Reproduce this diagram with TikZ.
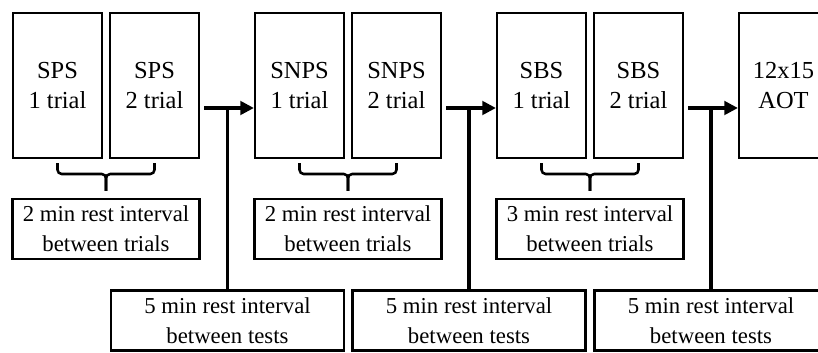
\documentclass[tikz,border=0pt]{standalone}
\usepackage{fontspec}
\setmainfont{Liberation Serif}
\usetikzlibrary{arrows.meta}

\begin{document}
\begin{tikzpicture}
	\useasboundingbox (0,0) rectangle (20.45,8.8);
	% Define styles
	\tikzstyle{trial}=[rectangle, draw=black, line width=1.6pt, minimum width=2.225cm, minimum height=3.625cm, inner sep=0pt, align=center, font=\fontsize{17.4}{21.3}\selectfont]
	\tikzstyle{rest}=[rectangle, draw=black, line width=1.6pt, minimum height=1.5cm, inner sep=0pt, align=center, font=\fontsize{16.2}{21.3}\selectfont]
	\tikzstyle{flow}=[line width=2.2pt, -{Triangle[length=3.4mm, width=3.4mm]}]
	\tikzstyle{link}=[line width=2.2pt]
	\tikzstyle{brace}=[line width=1.8pt, rounded corners=3pt]

	\node[trial] (sps1) at (1.4375,6.6625) {SPS\\1 trial};
	\node[trial] (sps2) at (3.8625,6.6625) {SPS\\2 trial};
	\node[trial] (snps1) at (7.4875,6.6625) {SNPS\\1 trial};
	\node[trial] (snps2) at (9.9125,6.6625) {SNPS\\2 trial};
	\node[trial] (sbs1) at (13.5375,6.6625) {SBS\\1 trial};
	\node[trial] (sbs2) at (15.9625,6.6625) {SBS\\2 trial};
	\node[trial] (aot) at (19.5875,6.6625) {12x15\\AOT};

	% rest between trials
	\node[rest, minimum width=4.675cm] (r1) at (2.65,3.075) {2 min rest interval\\between trials};
	\node[rest, minimum width=4.675cm] (r2) at (8.70,3.075) {2 min rest interval\\between trials};
	\node[rest, minimum width=4.675cm] (r3) at (14.75,3.075) {3 min rest interval\\between trials};

	% rest between tests
	\node[rest, minimum width=5.825cm] (t1) at (5.6875,0.7875) {5 min rest interval\\between tests};
	\node[rest, minimum width=5.825cm] (t2) at (11.725,0.7875) {5 min rest interval\\between tests};
	\node[rest, minimum width=5.825cm] (t3) at (17.775,0.7875) {5 min rest interval\\between tests};

	\coordinate (a1) at (5.1,6.1);
	\coordinate (a2) at (11.15,6.1);
	\coordinate (a3) at (17.2,6.1);
	\draw[flow] (a1) -- (snps1.west |- a1);
	\draw[flow] (a2) -- (sbs1.west |- a2);
	\draw[flow] (a3) -- (aot.west |- a3);
	\draw[link] (t1.north) -- (t1.north |- a1);
	\draw[link] (t2.north) -- (t2.north |- a2);
	\draw[link] (t3.north) -- (t3.north |- a3);

	\coordinate (m1) at (2.65,4.45);
	\coordinate (m2) at (8.70,4.45);
	\coordinate (m3) at (14.75,4.45);
	\draw[brace] ([yshift=-1mm]sps1.south) |- (m1) -- ([yshift=1.75mm]r1.north);
	\draw[brace] ([yshift=1.75mm]r1.north) -- (m1) -| ([yshift=-1mm]sps2.south);
	\draw[brace] ([yshift=-1mm]snps1.south) |- (m2) -- ([yshift=1.75mm]r2.north);
	\draw[brace] ([yshift=1.75mm]r2.north) -- (m2) -| ([yshift=-1mm]snps2.south);
	\draw[brace] ([yshift=-1mm]sbs1.south) |- (m3) -- ([yshift=1.75mm]r3.north);
	\draw[brace] ([yshift=1.75mm]r3.north) -- (m3) -| ([yshift=-1mm]sbs2.south);
\end{tikzpicture}
\end{document}
